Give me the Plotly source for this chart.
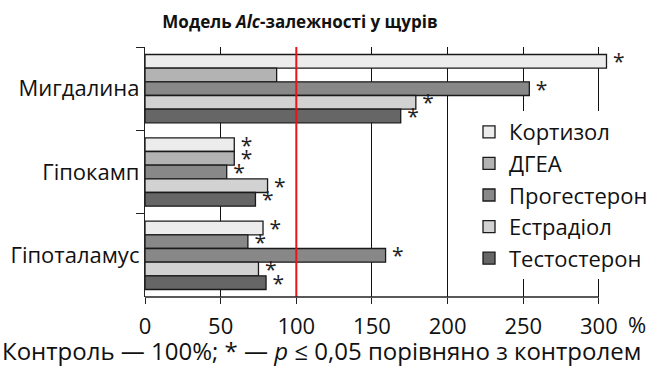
import plotly.graph_objects as go

categories = ["Мигдалина", "Гіпокамп", "Гіпоталамус"]
series_names = ["Кортизол", "ДГЕА", "Прогестерон", "Естрадіол", "Тестостерон"]
values = {
    "Кортизол":    [305, 59, 78],
    "ДГЕА":        [87, 59, 68],
    "Прогестерон": [254, 54, 159],
    "Естрадіол":   [179, 81, 75],
    "Тестостерон": [169, 73, 80],
}
significant = {
    "Кортизол":    [True, True, True],
    "ДГЕА":        [False, True, True],
    "Прогестерон": [True, True, True],
    "Естрадіол":   [True, True, True],
    "Тестостерон": [True, True, True],
}
colors = {
    "Кортизол":    ["#ececec"] * 3,
    "ДГЕА":        ["#b3b3b3", "#b3b3b3", "#888888"],
    "Прогестерон": ["#888888"] * 3,
    "Естрадіол":   ["#d2d2d2"] * 3,
    "Тестостерон": ["#666666"] * 3,
}
x_ticks = [0, 50, 100, 150, 200, 250, 300]
control_level = 100

FONT = "Open Sans"

fig = go.Figure()
for name in series_names:
    fig.add_trace(go.Bar(
        name=name,
        y=categories,
        x=values[name],
        orientation="h",
        marker=dict(color=colors[name], line=dict(color="#1a1a1a", width=1.3)),
        text=["\u2009*" if s else "" for s in significant[name]],
        textposition="outside",
        constraintext="none",
        textfont=dict(size=21, color="#222", family=FONT),
        cliponaxis=False,
        legendgroup=name,
    ))

fig.add_shape(type="line", xref="x", yref="paper", x0=control_level, x1=control_level,
              y0=0, y1=1, line=dict(color="#e8141a", width=2), layer="above")
fig.add_shape(type="line", xref="x", yref="paper", x0=0, x1=300, y0=0, y1=0,
              line=dict(color="#222", width=1.3), layer="above")

fig.add_annotation(x=1.0, xref="paper", xanchor="left", y=0, yref="paper", yanchor="middle",
                   yshift=-27, xshift=18, text="%", showarrow=False,
                   font=dict(size=22, color="#111", family=FONT))
fig.add_annotation(x=-145/463, xref="paper", xanchor="left", y=0, yref="paper",
                   yanchor="middle", yshift=-53,
                   text="Контроль — 100%; * — <i>p</i> ≤ 0,05 порівняно з контролем",
                   showarrow=False, font=dict(size=24, color="#111", family=FONT))

fig.update_layout(
    width=652, height=367,
    margin=dict(l=145, r=44, t=47, b=70, autoexpand=False),
    paper_bgcolor="white", plot_bgcolor="white",
    barmode="group", bargap=0.18, bargroupgap=0,
    font=dict(family=FONT, size=22, color="#111"),
    title=dict(text="<b>Модель <i>Alc</i>-залежності у щурів</b>", xref="container",
               x=300/652, xanchor="center", y=0.94, yanchor="middle",
               font=dict(size=17, family=FONT, color="#111")),
    showlegend=True,
    legend=dict(x=(469-145)/463, xanchor="left", y=(367-70-111)/250, yanchor="top",
                bgcolor="white", font=dict(size=22, family=FONT), tracegroupgap=0,
                itemwidth=30),
    xaxis=dict(range=[0, 306], tickvals=x_ticks, ticktext=[str(v) for v in x_ticks],
               showgrid=True, gridcolor="#111", gridwidth=1, zeroline=False,
               showline=False, ticks="outside", ticklen=6, tickcolor="#222",
               ticklabelstandoff=4, tickfont=dict(size=22, family=FONT), automargin=False),
    yaxis=dict(autorange="reversed", showline=True, linecolor="#222", linewidth=1.3,
               ticks="outside", ticklen=8, tickcolor="#222", tickson="boundaries",
               showgrid=False, tickfont=dict(size=22, family=FONT), ticklabelstandoff=0,
               automargin=False),
)

fig.write_html("out.html", config={"displayModeBar": False},
               post_script="document.body.style.margin='0';")
